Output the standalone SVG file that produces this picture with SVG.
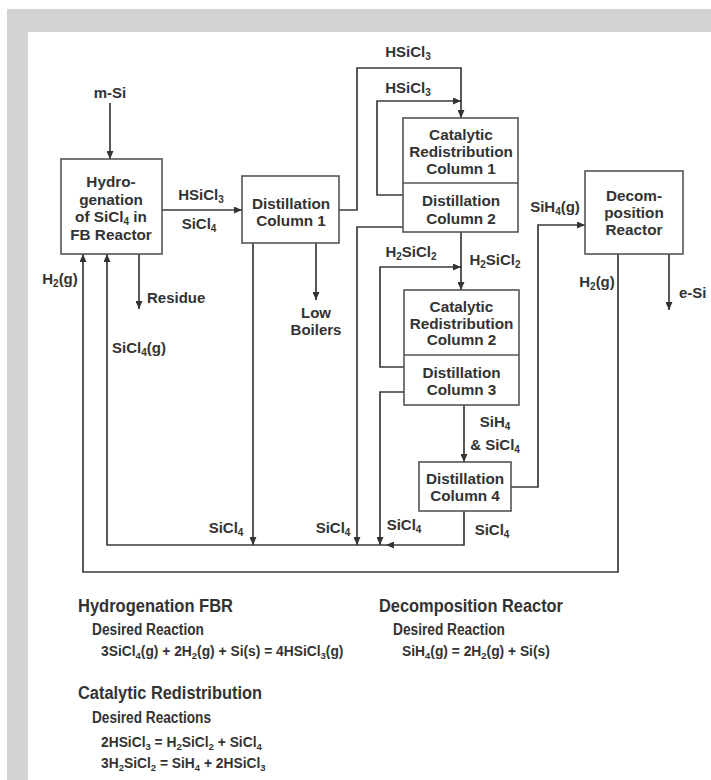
<svg xmlns="http://www.w3.org/2000/svg" width="711" height="780" viewBox="0 0 711 780">
<defs>
<marker id="ah" viewBox="0 0 8 7" markerWidth="8" markerHeight="7" refX="8" refY="3.5" orient="auto" markerUnits="userSpaceOnUse">
<path d="M0,0 L8,3.5 L0,7 z" fill="#333"/>
</marker>
<style>
.box{fill:#fff;stroke:#555;stroke-width:1.6}
.div{stroke:#555;stroke-width:1.6}
.c{fill:none;stroke:#3a3a3a;stroke-width:1.7;marker-end:url(#ah)}
text{font-family:"Liberation Sans",Arial,sans-serif;font-weight:bold;fill:#333}
.t{font-size:15.3px;text-anchor:middle}
.l{font-size:15px}
.lm{font-size:15px;text-anchor:middle}
.s{font-size:10px}
.h{font-size:18px}
.d{font-size:16px}
.e{font-size:13.8px}
.es{font-size:9.5px}
</style>
</defs>
<rect x="7" y="9" width="704" height="771" fill="#d1d3d4"/>
<rect x="28" y="32" width="683" height="748" fill="#fff"/>

<g id="connectors">
<path class="c" d="M110,103 V159"/>
<path class="c" d="M162,210 H242"/>
<path class="c" d="M139,254 V309"/>
<path class="c" d="M316,243 V300"/>
<path class="c" d="M253,243 V545"/>
<path class="c" d="M339,210 H357 V68 H461 V118"/>
<path class="c" d="M403,195 H377 V101 H461"/>
<path class="c" d="M403,227 H357 V545"/>
<path class="c" d="M461,232 V290"/>
<path class="c" d="M404,367 H380 V267 H461"/>
<path class="c" d="M404,392 H380 V545"/>
<path class="c" d="M464,405 V462"/>
<path class="c" d="M511,487 H538 V225 H585"/>
<path class="c" d="M464,511 V545 H386"/>
<path class="c" d="M386,545 H107 V254"/>
<path class="c" d="M618,254 V572 H83 V254"/>
<path class="c" d="M669,254 V310"/>
</g>

<g id="hydrogenation">
<rect class="box" x="61" y="159" width="101" height="95"/>
<text class="t" x="111" y="187">Hydro-</text>
<text class="t" x="111" y="204.5">genation</text>
<text class="t" x="111" y="222">of SiCl<tspan class="s" dy="3">4</tspan><tspan dy="-3"> in</tspan></text>
<text class="t" x="111" y="239.5">FB Reactor</text>
</g>

<g id="distillation1">
<rect class="box" x="242" y="176" width="97" height="67"/>
<text class="t" x="291" y="209">Distillation</text>
<text class="t" x="291" y="226">Column 1</text>
</g>

<g id="crc1-dc2">
<rect class="box" x="403" y="118" width="115" height="114"/>
<line class="div" x1="403" y1="183" x2="518" y2="183"/>
<text class="t" x="461" y="140">Catalytic</text>
<text class="t" x="461" y="157">Redistribution</text>
<text class="t" x="461" y="174">Column 1</text>
<text class="t" x="461" y="206">Distillation</text>
<text class="t" x="461" y="223.5">Column 2</text>
</g>

<g id="crc2-dc3">
<rect class="box" x="404" y="290" width="115" height="115"/>
<line class="div" x1="404" y1="355" x2="519" y2="355"/>
<text class="t" x="461.5" y="312">Catalytic</text>
<text class="t" x="461.5" y="328.5">Redistribution</text>
<text class="t" x="461.5" y="345">Column 2</text>
<text class="t" x="461.5" y="378">Distillation</text>
<text class="t" x="461.5" y="395">Column 3</text>
</g>

<g id="distillation4">
<rect class="box" x="419" y="462" width="92" height="49"/>
<text class="t" x="465" y="484">Distillation</text>
<text class="t" x="465" y="501">Column 4</text>
</g>

<g id="decomposition">
<rect class="box" x="585" y="171" width="98" height="83"/>
<text class="t" x="634" y="201">Decom-</text>
<text class="t" x="634" y="217.5">position</text>
<text class="t" x="634" y="234.5">Reactor</text>
</g>

<g id="labels">
<text class="lm" x="110" y="98">m-Si</text>
<text class="lm" x="201" y="199.5">HSiCl<tspan class="s" dy="3">3</tspan></text>
<text class="lm" x="199" y="228.5">SiCl<tspan class="s" dy="3">4</tspan></text>
<text class="lm" x="60" y="284">H<tspan class="s" dy="3">2</tspan><tspan dy="-3">(g)</tspan></text>
<text class="l" x="147" y="303">Residue</text>
<text class="l" x="112" y="353">SiCl<tspan class="s" dy="3">4</tspan><tspan dy="-3">(g)</tspan></text>
<text class="lm" x="316" y="318">Low</text>
<text class="lm" x="316" y="335">Boilers</text>
<text class="lm" x="408" y="57">HSiCl<tspan class="s" dy="3">3</tspan></text>
<text class="lm" x="408" y="93">HSiCl<tspan class="s" dy="3">3</tspan></text>
<text class="lm" x="411" y="257">H<tspan class="s" dy="3">2</tspan><tspan dy="-3">SiCl</tspan><tspan class="s" dy="3">2</tspan></text>
<text class="lm" x="495" y="265">H<tspan class="s" dy="3">2</tspan><tspan dy="-3">SiCl</tspan><tspan class="s" dy="3">2</tspan></text>
<text class="lm" x="555" y="212">SiH<tspan class="s" dy="3">4</tspan><tspan dy="-3">(g)</tspan></text>
<text class="lm" x="597" y="287">H<tspan class="s" dy="3">2</tspan><tspan dy="-3">(g)</tspan></text>
<text class="l" x="679" y="297.5">e-Si</text>
<text class="lm" x="495" y="427">SiH<tspan class="s" dy="3">4</tspan></text>
<text class="lm" x="495" y="450">&amp; SiCl<tspan class="s" dy="3">4</tspan></text>
<text class="lm" x="226" y="533">SiCl<tspan class="s" dy="3">4</tspan></text>
<text class="lm" x="333" y="533">SiCl<tspan class="s" dy="3">4</tspan></text>
<text class="lm" x="404" y="530">SiCl<tspan class="s" dy="3">4</tspan></text>
<text class="lm" x="492" y="535">SiCl<tspan class="s" dy="3">4</tspan></text>
</g>

<g id="notes">
<text class="h" x="78" y="612" textLength="155" lengthAdjust="spacingAndGlyphs">Hydrogenation FBR</text>
<text class="d" x="92" y="635" textLength="112" lengthAdjust="spacingAndGlyphs">Desired Reaction</text>
<text class="e" x="101" y="656">3SiCl<tspan class="es" dy="3">4</tspan><tspan dy="-3">(g) + 2H</tspan><tspan class="es" dy="3">2</tspan><tspan dy="-3">(g) + Si(s) = 4HSiCl</tspan><tspan class="es" dy="3">3</tspan><tspan dy="-3">(g)</tspan></text>
<text class="h" x="379" y="612" textLength="184" lengthAdjust="spacingAndGlyphs">Decomposition Reactor</text>
<text class="d" x="393" y="635" textLength="112" lengthAdjust="spacingAndGlyphs">Desired Reaction</text>
<text class="e" x="402" y="656">SiH<tspan class="es" dy="3">4</tspan><tspan dy="-3">(g) = 2H</tspan><tspan class="es" dy="3">2</tspan><tspan dy="-3">(g) + Si(s)</tspan></text>
<text class="h" x="78" y="699" textLength="184" lengthAdjust="spacingAndGlyphs">Catalytic Redistribution</text>
<text class="d" x="92" y="722.5" textLength="119" lengthAdjust="spacingAndGlyphs">Desired Reactions</text>
<text class="e" x="101" y="746.5">2HSiCl<tspan class="es" dy="3">3</tspan><tspan dy="-3"> = H</tspan><tspan class="es" dy="3">2</tspan><tspan dy="-3">SiCl</tspan><tspan class="es" dy="3">2</tspan><tspan dy="-3"> + SiCl</tspan><tspan class="es" dy="3">4</tspan></text>
<text class="e" x="101" y="768">3H<tspan class="es" dy="3">2</tspan><tspan dy="-3">SiCl</tspan><tspan class="es" dy="3">2</tspan><tspan dy="-3"> = SiH</tspan><tspan class="es" dy="3">4</tspan><tspan dy="-3"> + 2HSiCl</tspan><tspan class="es" dy="3">3</tspan></text>
</g>
</svg>
